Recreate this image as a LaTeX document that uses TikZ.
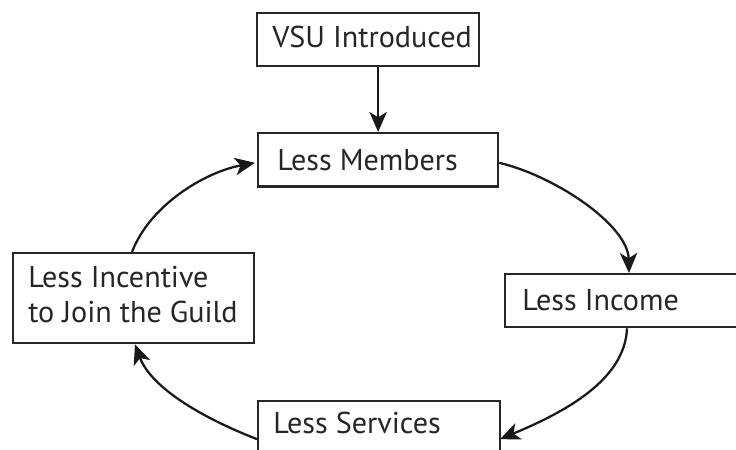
\documentclass[tikz,border=0pt]{standalone}
\usepackage{fontspec}
\setmainfont{PT Sans}
\usetikzlibrary{arrows.meta,calc}
\begin{document}
\begin{tikzpicture}[x=0.75pt,y=-0.75pt,
  box/.style={draw=black!85,line width=1.7pt,rectangle,inner sep=0pt,anchor=north west},
  lbl/.style={anchor=base west,inner sep=0pt,font=\fontsize{22.6}{26}\selectfont,text=black!85},
  conn/.style={line width=1.7pt,draw=black!90,-{Stealth[length=15pt,width=13pt,inset=4pt]}}]
\useasboundingbox (0,0) rectangle (736,450);
\clip (0,0) rectangle (736,450);
\fill[white] (0,0) rectangle (736,450);
% boxes
\node[box,minimum width=166.5pt,minimum height=39.75pt] (vsu) at (256,12) {};
\node[box,minimum width=180pt,minimum height=40pt] (mem) at (257,132) {};
\node[box,minimum width=184.5pt,minimum height=39.75pt] (inc) at (504,273) {};
\node[box,minimum width=180.75pt,minimum height=67.5pt] (incen) at (12,252) {};
\node[box,minimum width=181.5pt,minimum height=52.5pt] (serv) at (257,400) {};
% labels
\node[lbl] (tvsu) at (272,47) {VSU Introduced};
\node[lbl] (tmem) at (277,170) {Less Members};
\node[lbl] (tinc) at (522,310) {Less Income};
\node[lbl] (tinc1) at (28,287) {Less Incentive};
\node[lbl] (tinc2) at (28,322) {to Join the Guild};
\node[lbl] (tserv) at (273,433) {Less Services};
% connectors
\draw[conn] (mem.north |- vsu.south) -- (mem.north);
\draw[conn] ($(mem.east)+(0,3)$) .. controls (555,176) and (628,225) .. ($(inc.north west)+(125,0)$);
\draw[conn] ($(inc.south west)+(123,0)$) .. controls (625,380) and (565,412) .. ($(serv.west)+(243,3)$);
\draw[conn] ($(serv.west)+(0,3)$) .. controls (195,415) and (150,385) .. ($(incen.south west)+(123,0)$);
\draw[conn] ($(incen.north west)+(120,0)$) .. controls (150,205) and (205,172) .. ($(mem.west)+(-2,3)$);
\end{tikzpicture}
\end{document}
